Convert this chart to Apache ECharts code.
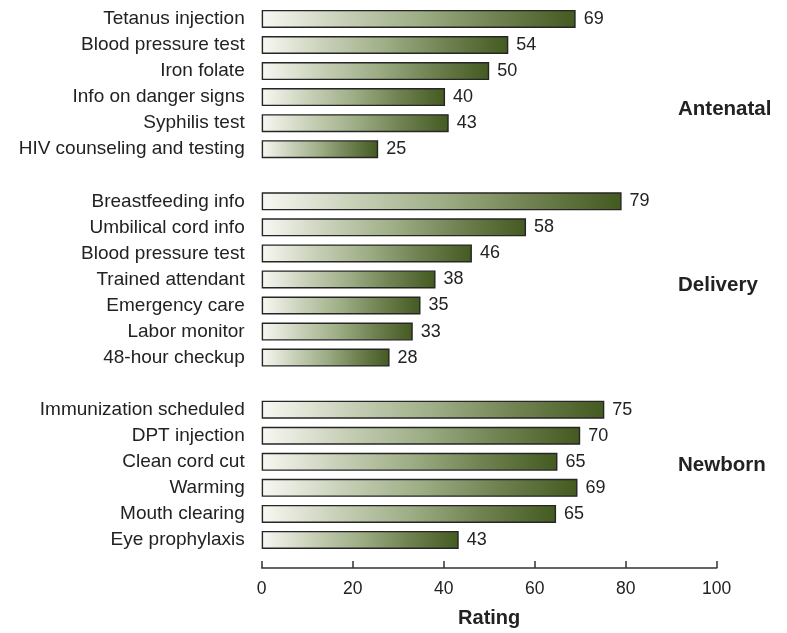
<!DOCTYPE html>
<html>
<head>
<meta charset="utf-8">
<script src="https://cdn.jsdelivr.net/npm/echarts@6/dist/echarts.min.js"></script>
<style>
html,body{margin:0;padding:0;background:#fff;}
#c{width:787px;height:633px;}
</style>
</head>
<body>
<div id="c"></div>
<script>
// Categories per group
const antenatalCats = ['Tetanus injection','Blood pressure test','Iron folate','Info on danger signs','Syphilis test','HIV counseling and testing'];
const deliveryCats = ['Breastfeeding info','Umbilical cord info','Blood pressure test','Trained attendant','Emergency care','Labor monitor','48-hour checkup'];
const newbornCats = ['Immunization scheduled','DPT injection','Clean cord cut','Warming','Mouth clearing','Eye prophylaxis'];

// Bar lengths as drawn
const antenatalBars = [69, 54.2, 50, 40.3, 41.1, 25.6];
const deliveryBars = [79.1, 58.1, 46.2, 38.2, 34.9, 33.2, 28.1];
const newbornBars = [75.3, 70, 65, 69.4, 64.7, 43.3];

// Printed value labels
const antenatalPrinted = [69, 54, 50, 40, 43, 25];
const deliveryPrinted = [79, 58, 46, 38, 35, 33, 28];
const newbornPrinted = [75, 70, 65, 69, 65, 43];

const groupNames = ['Antenatal','Delivery','Newborn'];
const xTicks = [0, 20, 40, 60, 80, 100];

// Build combined category list with blank separator rows
const cats = [], data = [];
function addGroup(c, b, p){
  c.forEach((name,i)=>{ cats.push(name); data.push({value:b[i], printed:p[i]}); });
}
addGroup(antenatalCats, antenatalBars, antenatalPrinted);
cats.push(' '); data.push('-');
addGroup(deliveryCats, deliveryBars, deliveryPrinted);
cats.push('  '); data.push('-');
addGroup(newbornCats, newbornBars, newbornPrinted);

const FONT = '"Liberation Sans", Arial, Helvetica, sans-serif';
const chart = echarts.init(document.getElementById('c'), null, {renderer:'canvas'});

const grad = new echarts.graphic.LinearGradient(0,0,1,0,[
  {offset:0, color:'#f8f8f3'},
  {offset:0.25, color:'#c9d1b9'},
  {offset:0.5, color:'#9eae86'},
  {offset:0.75, color:'#6f8150'},
  {offset:1, color:'#435a20'}
]);

chart.setOption({
  animation:false,
  backgroundColor:'#fff',
  grid:{left:261.7, right:70.3, top:5.9, bottom:77.9, containLabel:false},
  xAxis:{
    type:'value', min:xTicks[0], max:xTicks[xTicks.length-1], interval:20,
    offset:15,
    axisLine:{show:true, lineStyle:{color:'#333', width:1.5}},
    axisTick:{show:true, inside:true, length:7, lineStyle:{color:'#333', width:1.5}},
    axisLabel:{color:'#222', fontFamily:FONT, fontSize:17.5, margin:12},
    splitLine:{show:false},
    name:'Rating', nameLocation:'middle', nameGap:40,
    nameTextStyle:{color:'#222', fontFamily:FONT, fontSize:20, fontWeight:'bold'}
  },
  yAxis:{
    type:'category', data:cats, inverse:true,
    axisLine:{show:false}, axisTick:{show:false}, splitLine:{show:false},
    axisLabel:{color:'#222', fontFamily:FONT, fontSize:19, margin:17, interval:0}
  },
  series:[{
    type:'bar', data:data, barWidth:18,
    itemStyle:{color:grad, borderColor:'#262626', borderWidth:1.4},
    label:{show:true, position:'right', distance:8, color:'#222', fontFamily:FONT, fontSize:18,
      formatter:p=>p.data && p.data.printed!==undefined ? String(p.data.printed) : ''}
  }],
  graphic:[
    {type:'text', left:678, top:110-11, style:{text:groupNames[0], fill:'#222', font:'bold 20.5px '+FONT}},
    {type:'text', left:678, top:285.5-11, style:{text:groupNames[1], fill:'#222', font:'bold 20.5px '+FONT}},
    {type:'text', left:678, top:465.5-11, style:{text:groupNames[2], fill:'#222', font:'bold 20.5px '+FONT}}
  ]
});
</script>
</body>
</html>
